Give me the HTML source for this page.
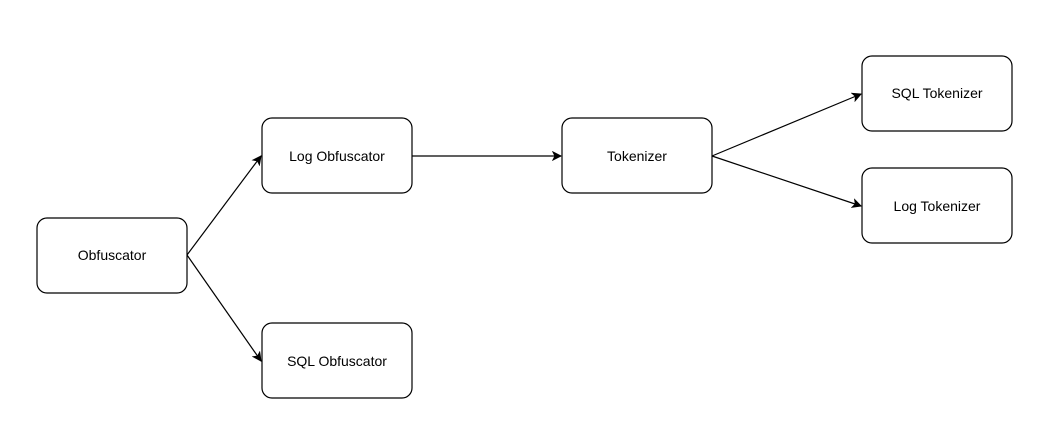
<!DOCTYPE html>
<html><head><style>
html,body{margin:0;padding:0;background:#fff;}
svg{display:block}
text{font-family:"Liberation Sans",Arial,sans-serif;font-size:14px;fill:#000}
</style></head><body>
<svg width="1056" height="441" viewBox="0 0 1056 441" xmlns="http://www.w3.org/2000/svg">
<defs><marker id="a" markerWidth="10" markerHeight="10" refX="9" refY="5" orient="auto" markerUnits="userSpaceOnUse"><path d="M1,1 L9,5 L1,9 L3,5 Z" fill="#000" stroke="#000"/></marker></defs>
<g fill="#fff" stroke="#000" stroke-width="1.2">
<rect x="37" y="218" width="150" height="75" rx="10"/>
<rect x="262" y="118" width="150" height="75" rx="10"/>
<rect x="262" y="323" width="150" height="75" rx="10"/>
<rect x="562" y="118" width="150" height="75" rx="10"/>
<rect x="862" y="56" width="150" height="75" rx="10"/>
<rect x="862" y="168" width="150" height="75" rx="10"/>
</g>
<g stroke="#000" stroke-width="1.2" fill="none" marker-end="url(#a)">
<line x1="187" y1="255" x2="261" y2="156"/>
<line x1="187" y1="255" x2="261" y2="361"/>
<line x1="412" y1="156" x2="561" y2="156"/>
<line x1="712" y1="156" x2="861" y2="94"/>
<line x1="712" y1="156" x2="861" y2="206"/>
</g>
<g text-anchor="middle">
<text x="112" y="260">Obfuscator</text>
<text x="337" y="161">Log Obfuscator</text>
<text x="337" y="366">SQL Obfuscator</text>
<text x="637" y="161">Tokenizer</text>
<text x="937" y="98">SQL Tokenizer</text>
<text x="937" y="211">Log Tokenizer</text>
</g>
</svg>
</body></html>
